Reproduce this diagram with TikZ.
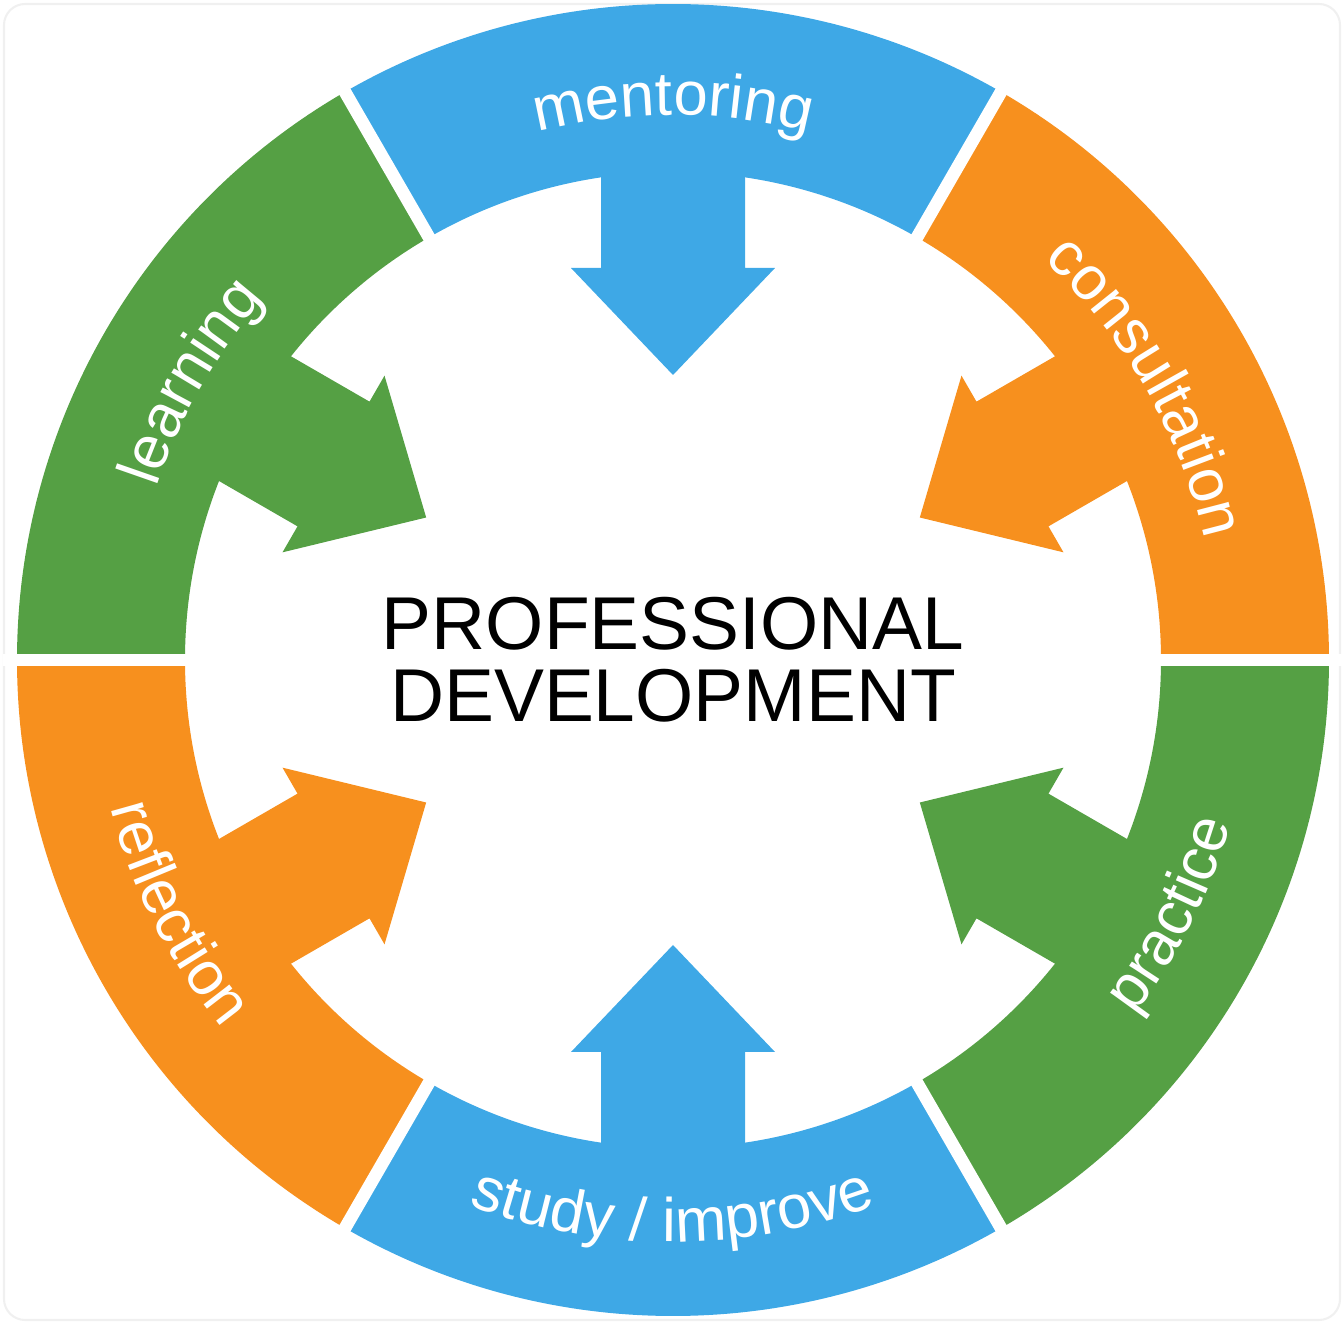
\documentclass[tikz,border=0pt]{standalone}
\usepackage{fontspec}
\setmainfont{Liberation Sans}
\usetikzlibrary{calc,decorations.text}
\definecolor{wheelblue}{HTML}{3EA8E6}
\definecolor{wheelorange}{HTML}{F7901E}
\definecolor{wheelgreen}{HTML}{55A044}
\tikzset{
  toplabel/.style={decorate, decoration={text along path, text align=center,
    text={|\color{white}\fontsize{17.5}{20}\selectfont|#1}}},
}
\begin{document}
\begin{tikzpicture}
  \useasboundingbox (0,0) rectangle (13.44,13.24);
  \draw[black!6, line width=0.6pt, rounded corners=6pt] (0.04,0.04) rectangle (13.40,13.20);
  \coordinate (c) at (6.73,6.64);
  % ring segments with their arrows
  \foreach \ang/\col in {90/wheelblue,30/wheelorange,150/wheelgreen,210/wheelorange,270/wheelblue,330/wheelgreen} {
    \fill[\col] ($(c)+(\ang-30:6.56)$) arc[start angle=\ang-30, end angle=\ang+30, radius=6.56]
      -- ($(c)+(\ang+30:4.88)$) arc[start angle=\ang+30, end angle=\ang-30, radius=4.88] -- cycle;
    \begin{scope}[shift={(c)}, rotate=\ang-90]
      \fill[\col] (-0.72,5.2) -- (-0.72,3.92) -- (-1.02,3.92) -- (0,2.85)
        -- (1.02,3.92) -- (0.72,3.92) -- (0.72,5.2) -- cycle;
    \end{scope}
  }
  % white gaps
  \foreach \ang in {0,60,...,300}
    \draw[white, line width=3.6pt] ($(c)+(\ang:4.7)$) -- ($(c)+(\ang:6.7)$);
  % labels
  \foreach \ang/\word in {90/mentoring,30/consultation,150/learning}
    \path[toplabel=\word] ($(c)+(\ang+29:5.45)$) arc[start angle=\ang+29, end angle=\ang-29, radius=5.45];
  \path[toplabel={study / improve}] ($(c)+(241:5.82)$) arc[start angle=241, end angle=299, radius=5.82];
  \path[toplabel=reflection] ($(c)+(178:5.82)$) arc[start angle=178, end angle=236, radius=5.82];
  \path[toplabel=practice] ($(c)+(304:5.82)$) arc[start angle=304, end angle=362, radius=5.82];
  \node[font=\fontsize{21.3}{20.5}\selectfont, align=center] (title) at (c) {PROFESSIONAL\\DEVELOPMENT};
\end{tikzpicture}
\end{document}
